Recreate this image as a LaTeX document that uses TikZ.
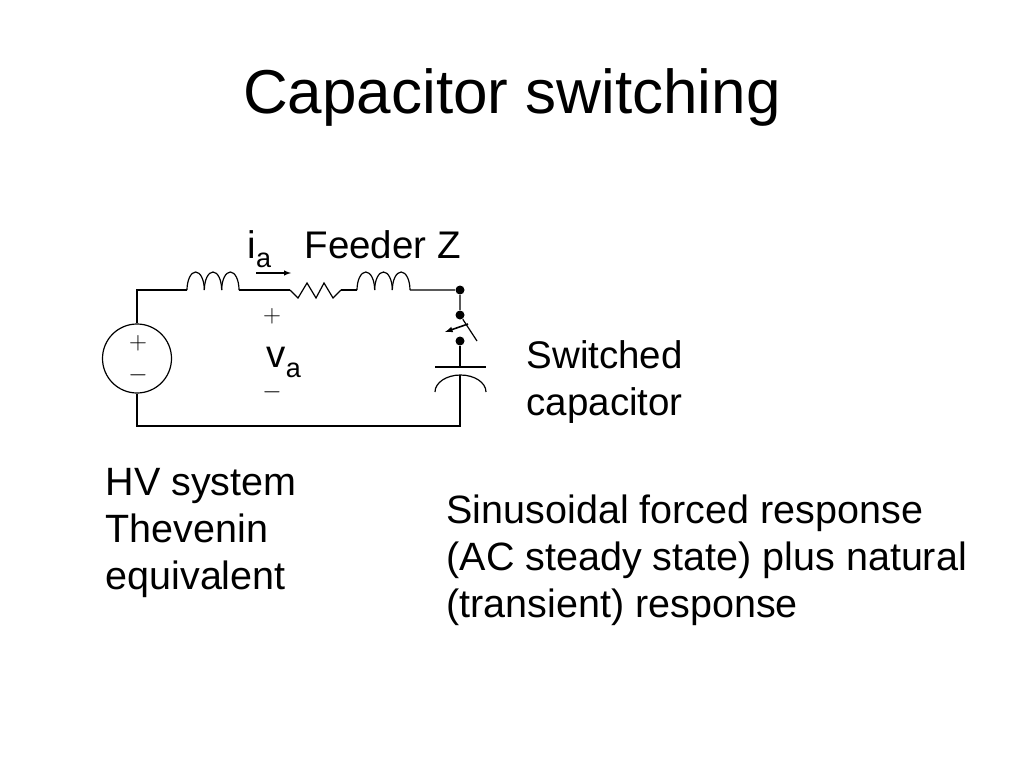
\documentclass[tikz,border=0pt]{standalone}
\usepackage{fontspec}
\setmainfont{Liberation Sans}
\usetikzlibrary{positioning}

\tikzset{
  dot/.style={circle, fill=black, inner sep=0pt, minimum size=9pt},
  txt/.style={font=\fontsize{38.5}{47}\selectfont, inner sep=0pt, align=left, anchor=base west},
  blocktxt/.style={txt, font=\fontsize{39.5}{47}\selectfont},
  sign/.style={font=\fontsize{24}{24}\selectfont, inner sep=0pt},
}

\begin{document}
\begin{tikzpicture}[x=1pt, y=1pt, line width=1.2pt]
    \useasboundingbox (0,0) rectangle (1024,-768);
    % title
    \node [font=\fontsize{62}{74}\selectfont, anchor=base] (title) at (512,-113) {Capacitor switching};
    % source and corners
    \node [circle, draw, line width=1.2pt, minimum size=69pt, inner sep=0pt] (src) at (137,-358.5) {};
    \node [sign] (srcp) at (138,-343) {$+$};
    \node [sign] (srcm) at (138,-375) {$-$};
    \coordinate (tl) at (137,-290);
    \coordinate (bl) at (137,-426);
    \coordinate (br) at (460,-426);
    \coordinate (l1a) at (187,-290);
    \coordinate (l1b) at (239,-290);
    \coordinate (ra) at (290,-290);
    \coordinate (rb) at (341,-290);
    \coordinate (l2a) at (357,-290);
    \coordinate (l2b) at (410,-290);
    \node [dot] (n1) at (460,-290) {};
    \node [dot] (n2) at (460,-315) {};
    \node [dot] (n3) at (460,-341) {};
    \coordinate (blade) at (477,-341);
    \coordinate (plate) at (460,-367);
    \coordinate (cplate) at (460,-375);
    % inductors
    \foreach \x in {187,204.33,221.67} {
      \draw (\x,-290) arc [start angle=180, end angle=0, x radius=8.67pt, y radius=18pt];
    }
    \foreach \x in {357,374.67,392.33} {
      \draw (\x,-290) arc [start angle=180, end angle=0, x radius=8.83pt, y radius=18pt];
    }
    % resistor
    \draw (ra) -- (298,-298) -- (307,-283) -- (316,-298) -- (324,-283) -- (333,-298) -- (rb);
    % wiring
    \draw (src.north) -- (tl) -- (l1a);
    \draw (l1b) -- (ra);
    \draw (rb) -- (l2a);
    \draw (l2b) -- (n1) -- (n2) -- (blade);
    \draw (n3) -- (plate);
    \draw (cplate) -- (br) -- (bl) -- (src.south);
    % capacitor
    \draw (435,-367) -- (486,-367);
    \draw (435,-392) arc [start angle=180, end angle=0, x radius=25.5pt, y radius=17pt];
    % switch arrow
    \coordinate (sw1) at (468,-324);
    \coordinate (sw2) at (445,-332);
    \draw [-latex, line width=1.6pt] (sw1) -- (sw2);
    % current arrow
    \coordinate (ia1) at (256,-273);
    \coordinate (ia2) at (291,-273);
    \draw [-latex, line width=1.4pt] (ia1) -- (ia2);
    % labels
    \node [txt] (ia) at (247,-258) {i\raisebox{-9pt}{\fontsize{27}{27}\selectfont a}};
    \node [txt] (feeder) at (304,-258) {Feeder Z};
    \node [sign] (vap) at (272,-316) {$+$};
    \node [txt] (va) at (266,-367) {v\raisebox{-10pt}{\fontsize{27}{27}\selectfont a}};
    \node [sign] (vam) at (272,-392) {$-$};
    \node [txt] (swcap) at (526,-415) {Switched\\capacitor};
    \node [blocktxt] (hv) at (105,-589) {HV system\\Thevenin\\equivalent};
    \node [blocktxt] (resp) at (446,-617) {Sinusoidal forced response\\(AC steady state) plus natural\\(transient) response};
\end{tikzpicture}
\end{document}
